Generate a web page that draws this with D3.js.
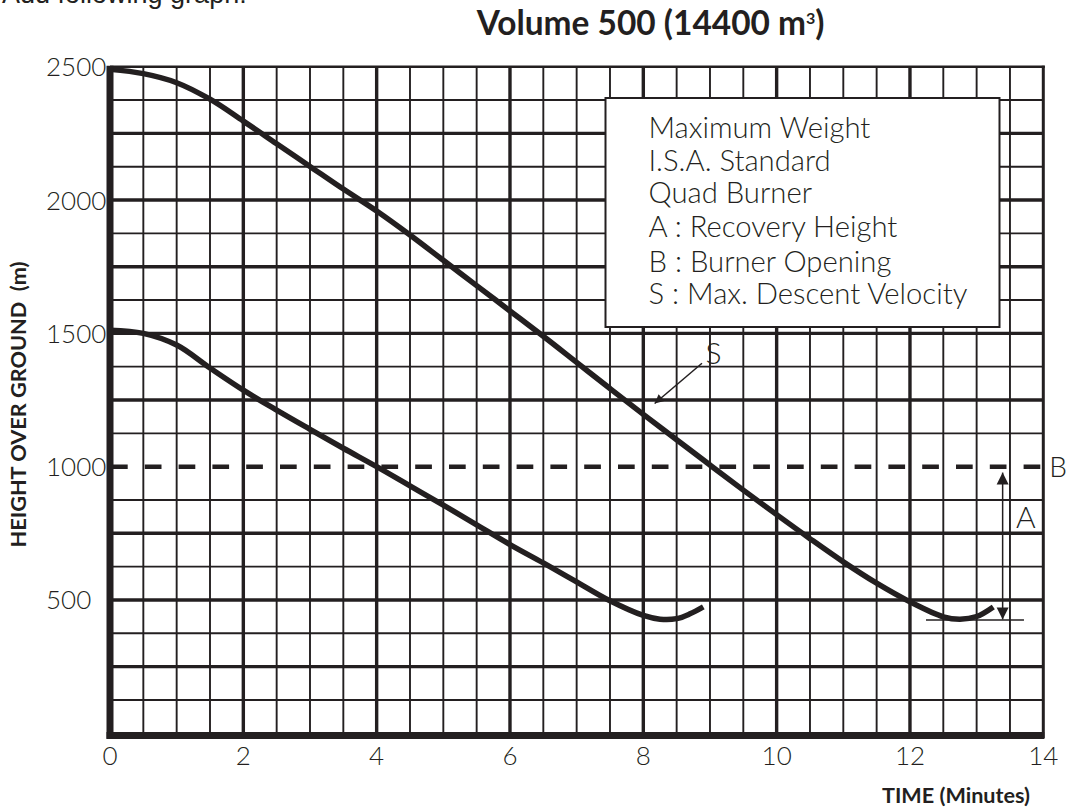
<!DOCTYPE html>
<html>
<head>
<meta charset="utf-8">
<script src="https://cdn.jsdelivr.net/npm/d3@7/dist/d3.min.js"></script>
<style>
  html, body { margin: 0; padding: 0; background: #fff; }
  svg { display: block; }
</style>
</head>
<body>
<svg id="chart" width="1066" height="810"></svg>
<script>
// values (time in minutes, height in m)
const upperTime   = [0, 0.5, 1, 1.5, 2, 2.5, 3, 3.5, 4, 4.5, 5, 5.5, 6, 6.5, 7, 7.5, 8, 8.5, 9, 9.5, 10, 10.5, 11, 11.5, 12, 12.5, 12.75, 13, 13.25];
const upperHeight = [2490, 2474, 2440, 2378, 2296, 2211, 2126, 2041, 1959, 1869, 1774, 1679, 1584, 1489, 1391, 1293, 1196, 1101, 1006, 912, 820, 730, 643, 563, 493, 437, 428, 438, 474];

const lowerTime   = [0, 0.5, 1, 1.5, 2, 2.5, 3, 3.5, 4, 4.5, 5, 5.5, 6, 6.5, 7, 7.5, 8, 8.25, 8.5, 8.7, 8.9];
const lowerHeight = [1512, 1500, 1456, 1370, 1287, 1212, 1140, 1069, 1000, 928, 856, 782, 708, 639, 568, 497, 442, 428, 430, 448, 474];

const xTicks = [0, 2, 4, 6, 8, 10, 12, 14];
const yTicks = [500, 1000, 1500, 2000, 2500];

const legendLines = ['Maximum Weight', 'I.S.A. Standard', 'Quad Burner',
                     'A : Recovery Height', 'B : Burner Opening', 'S : Max. Descent Velocity'];

const burnerHeight = 1000;          // B: dashed line
const recoveryTime = 13.39;         // A: vertical arrow position
const recoveryRange = [978, 427];   // A: arrow from / to (m)
const recoveryBase = [12.24, 13.71];// A: short base line (min)
const recoveryBaseHeight = 425;
const sArrowFrom = [8.88, 1388];    // S: pointer start
const sArrowTo = [8.17, 1237];      // S: pointer tip

const ink = '#231f20';
const thinFont = "'Century Gothic','URW Gothic','Lato','Noto Sans',sans-serif";
const boldFont = "'Century Gothic','URW Gothic','Lato','DejaVu Sans',sans-serif";

const svg = d3.select('#chart');

const x = d3.scaleLinear().domain([0, 14]).range([110, 1043.3]);
const y = d3.scaleLinear().domain([0, 2500]).range([733.3, 66.7]);

// grid: 0.5 min by 125 m cells, heavier every 2 min / 250 m
const grid = svg.append('g');
const xCells = d3.range(1, 28).map(i => i * 0.5);
// the 1000 m row is drawn dashed instead
const yCells = d3.range(1, 20).map(i => i * 125).filter(d => d !== burnerHeight);

grid.selectAll('line.v').data(xCells).enter().append('line')
    .attr('x1', d => x(d)).attr('x2', d => x(d))
    .attr('y1', y(2500)).attr('y2', y(0))
    .attr('stroke', ink)
    .attr('stroke-width', d => d % 2 === 0 ? 3.4 : 1.9);

grid.selectAll('line.h').data(yCells).enter().append('line')
    .attr('x1', x(0)).attr('x2', x(14))
    .attr('y1', d => y(d)).attr('y2', d => y(d))
    .attr('stroke', ink)
    .attr('stroke-width', d => d % 250 === 0 ? 3.4 : 1.9);

svg.append('line')
    .attr('x1', x(0) + 1).attr('x2', x(14))
    .attr('y1', y(burnerHeight)).attr('y2', y(burnerHeight))
    .attr('stroke', ink).attr('stroke-width', 4.5)
    .attr('stroke-dasharray', '16.7,17.1');

// legend box
const legend = svg.append('g');
legend.append('rect')
    .attr('x', 605.5).attr('y', 98).attr('width', 394).attr('height', 229)
    .attr('fill', '#fff').attr('stroke', ink).attr('stroke-width', 2);

const legendBase = [138, 170.5, 203, 237, 271.5, 304];
const legendText = legend.selectAll('text').data(legendLines).enter().append('text')
    .attr('x', 648.5).attr('y', (d, i) => legendBase[i])
    .attr('font-family', thinFont).attr('font-weight', 300)
    .attr('font-size', 24).attr('fill', ink)
    .text(d => d);

// scale legend font so the longest line matches the reference width
const longest = d3.max(legendText.nodes(), n => n.getComputedTextLength());
legendText.attr('font-size', 24 * 319 / longest);

// curves
const line = d3.line()
    .x(d => x(d[0])).y(d => y(d[1]))
    .curve(d3.curveCatmullRom.alpha(0.5));

const curves = [d3.zip(upperTime, upperHeight), d3.zip(lowerTime, lowerHeight)];
svg.append('g').selectAll('path').data(curves).enter().append('path')
    .attr('d', line)
    .attr('fill', 'none').attr('stroke', ink)
    .attr('stroke-width', 5.5).attr('stroke-linecap', 'butt');

// frame: heavy left and bottom axis, lighter top and right
svg.append('line').attr('x1', x(0)).attr('x2', x(0))
    .attr('y1', y(2500) - 1).attr('y2', y(0) + 5.5)
    .attr('stroke', ink).attr('stroke-width', 7);
svg.append('line').attr('x1', x(0) - 3.5).attr('x2', x(14) + 1)
    .attr('y1', y(0) + 2.2).attr('y2', y(0) + 2.2)
    .attr('stroke', ink).attr('stroke-width', 7);
svg.append('line').attr('x1', x(0)).attr('x2', x(14) + 1.5)
    .attr('y1', y(2500)).attr('y2', y(2500))
    .attr('stroke', ink).attr('stroke-width', 2.6);
svg.append('line').attr('x1', x(14)).attr('x2', x(14))
    .attr('y1', y(2500) - 1).attr('y2', y(0) + 5)
    .attr('stroke', ink).attr('stroke-width', 3);

// arrowheads
const defs = svg.append('defs');
defs.append('marker').attr('id', 'tipS')
    .attr('viewBox', '0 0 10 10').attr('refX', 10).attr('refY', 5)
    .attr('markerUnits', 'userSpaceOnUse')
    .attr('markerWidth', 13).attr('markerHeight', 9).attr('orient', 'auto')
    .append('path').attr('d', 'M0,0L10,5L0,10Z').attr('fill', ink);
defs.append('marker').attr('id', 'tipA')
    .attr('viewBox', '0 0 10 10').attr('refX', 10).attr('refY', 5)
    .attr('markerUnits', 'userSpaceOnUse')
    .attr('markerWidth', 12).attr('markerHeight', 13).attr('orient', 'auto-start-reverse')
    .append('path').attr('d', 'M0,0L10,5L0,10Z').attr('fill', ink);

// S pointer
svg.append('line')
    .attr('x1', x(sArrowFrom[0])).attr('y1', y(sArrowFrom[1]))
    .attr('x2', x(sArrowTo[0])).attr('y2', y(sArrowTo[1]))
    .attr('stroke', ink).attr('stroke-width', 1.5)
    .attr('marker-end', 'url(#tipS)');

// A recovery arrow and its base line
svg.append('line')
    .attr('x1', x(recoveryTime)).attr('x2', x(recoveryTime))
    .attr('y1', y(recoveryRange[0])).attr('y2', y(recoveryRange[1]))
    .attr('stroke', ink).attr('stroke-width', 1.5)
    .attr('marker-start', 'url(#tipA)').attr('marker-end', 'url(#tipA)');
svg.append('line')
    .attr('x1', x(recoveryBase[0])).attr('x2', x(recoveryBase[1]))
    .attr('y1', y(recoveryBaseHeight)).attr('y2', y(recoveryBaseHeight))
    .attr('stroke', ink).attr('stroke-width', 1.5);

// annotation letters
const letters = svg.append('g')
    .attr('font-family', thinFont).attr('font-weight', 300)
    .attr('font-size', 30).attr('fill', ink);
letters.append('text').attr('x', x(sArrowFrom[0]) + 11.5).attr('y', y(sArrowFrom[1]) + 0.5)
    .attr('text-anchor', 'middle').text('S');
letters.append('text').attr('x', x(14) - 17.5).attr('y', y(770))
    .attr('text-anchor', 'middle').text('A');
letters.append('text').attr('x', x(14) + 6).attr('y', y(burnerHeight) + 10)
    .attr('font-size', 28).text('B');

// tick labels
svg.append('g').selectAll('text').data(xTicks).enter().append('text')
    .attr('x', d => x(d)).attr('y', 765)
    .attr('text-anchor', 'middle')
    .attr('font-family', thinFont).attr('font-weight', 300)
    .attr('font-size', 26).attr('fill', ink)
    .text(d => d);

svg.append('g').selectAll('text').data(yTicks).enter().append('text')
    .attr('x', 46).attr('y', d => y(d) + 9.5)
    .attr('font-family', thinFont).attr('font-weight', 300)
    .attr('font-size', 26).attr('fill', ink)
    .text(d => d);

// titles
function fitWidth(sel, target) {
    const w = sel.node().getComputedTextLength();
    sel.attr('font-size', parseFloat(sel.attr('font-size')) * target / w);
}

const title = svg.append('text')
    .attr('x', 476.7).attr('y', 35)
    .attr('font-family', boldFont).attr('font-weight', 'bold')
    .attr('font-size', 26).attr('fill', ink);
title.append('tspan').text('Volume 500 (14400 m');
title.append('tspan').attr('dy', -11).style('font-size', '0.48em').text('3');
title.append('tspan').attr('dy', 11).text(')');
fitWidth(title, 348);

const xTitle = svg.append('text')
    .attr('x', 882).attr('y', 803)
    .attr('font-family', boldFont).attr('font-weight', 'bold')
    .attr('font-size', 16).attr('fill', ink)
    .text('TIME (Minutes)');
fitWidth(xTitle, 148);

const yTitle = svg.append('text')
    .attr('transform', 'translate(26,404.5) rotate(-90)')
    .attr('text-anchor', 'middle')
    .attr('font-family', boldFont).attr('font-weight', 'bold')
    .attr('font-size', 16).attr('fill', ink)
    .attr('xml:space', 'preserve')
    .style('white-space', 'pre')
    .text('HEIGHT OVER GROUND  (m)');
fitWidth(yTitle, 286);

// cropped caption line at the very top of the scan
svg.append('text')
    .attr('x', 2).attr('y', 3)
    .attr('font-family', "'Liberation Sans',Arial,sans-serif")
    .attr('font-size', 27).attr('fill', ink)
    .text('Add following graph:');
</script>
</body>
</html>
